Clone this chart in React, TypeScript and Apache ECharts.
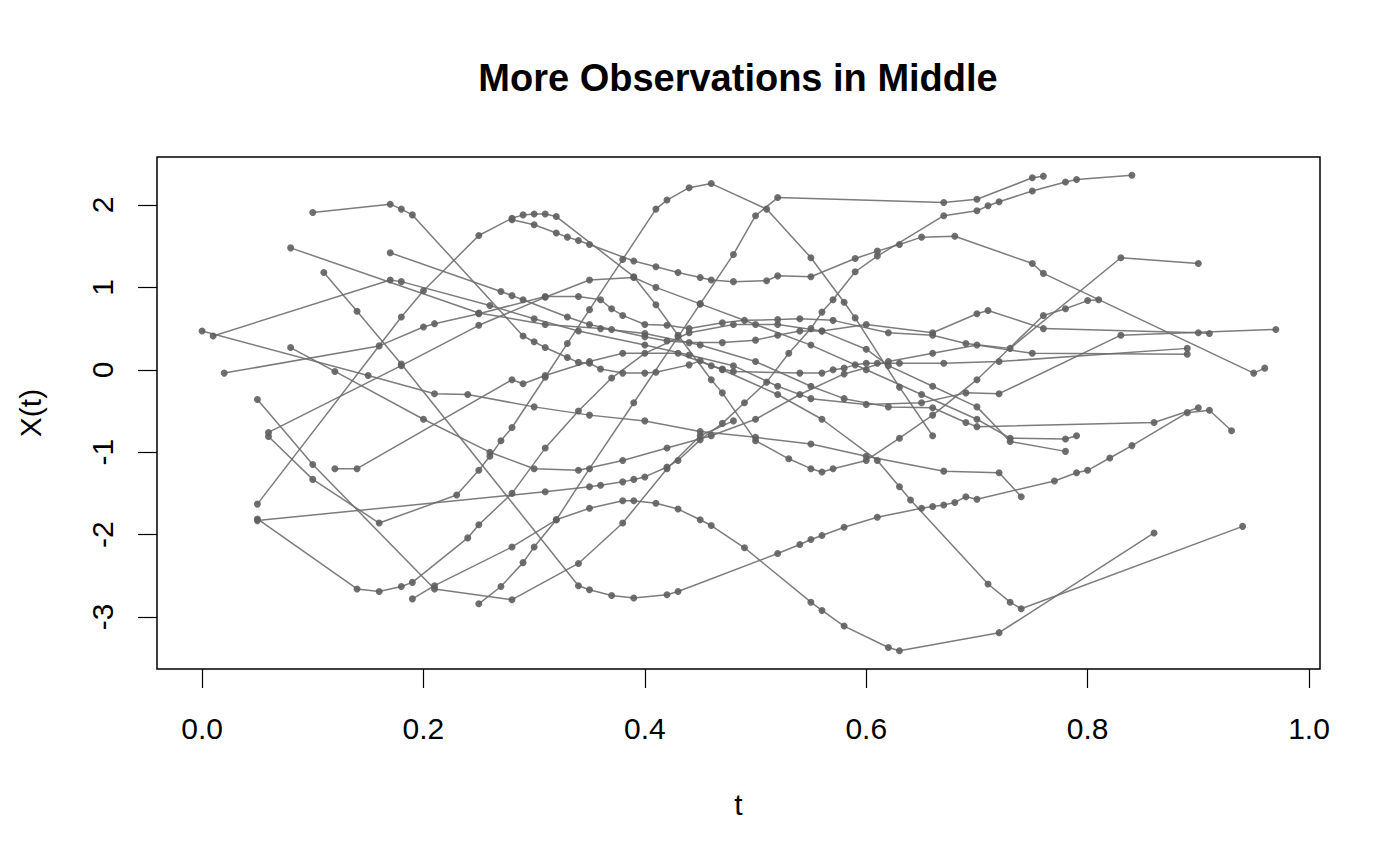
import React, { useEffect, useRef } from "react";
import * as echarts from "echarts";

// Each curve: [t, X(t)] observations
const curveA = [[0.10,1.91],[0.17,2.01],[0.18,1.95],[0.19,1.88],[0.29,0.41],[0.30,0.34],[0.31,0.27],[0.33,0.15],[0.34,0.09],[0.35,0.08],[0.36,0.01],[0.38,-0.04],[0.40,-0.04],[0.41,-0.03],[0.44,0.06],[0.45,0.11],[0.46,0.05],[0.47,0.01],[0.48,-0.02],[0.54,-0.04],[0.56,-0.04],[0.57,0.0],[0.58,0.02],[0.59,0.06],[0.60,0.08],[0.61,0.08],[0.63,0.08],[0.67,0.08],[0.72,0.10],[0.89,0.26]];
const curveB = [[0.05,-1.63],[0.18,0.64],[0.20,0.96],[0.25,1.63],[0.28,1.84],[0.29,1.88],[0.30,1.89],[0.31,1.89],[0.32,1.86],[0.39,1.13],[0.41,0.79],[0.43,0.42],[0.46,-0.12],[0.47,-0.28],[0.50,-0.86],[0.53,-1.08],[0.55,-1.20],[0.56,-1.24],[0.57,-1.20],[0.60,-1.10],[0.63,-0.83],[0.66,-0.55],[0.70,-0.12],[0.76,0.66],[0.78,0.74],[0.80,0.84],[0.81,0.85]];
const curveC = [[0.28,1.82],[0.30,1.76],[0.32,1.66],[0.33,1.61],[0.34,1.57],[0.35,1.52],[0.39,1.32],[0.41,1.25],[0.43,1.18],[0.45,1.12],[0.46,1.09],[0.48,1.07],[0.51,1.08],[0.52,1.14],[0.55,1.13],[0.59,1.35],[0.61,1.44],[0.63,1.52],[0.65,1.61],[0.68,1.62],[0.75,1.29],[0.76,1.17],[0.95,-0.04],[0.96,0.02]];
const curveD = [[0.11,1.18],[0.14,0.71],[0.18,0.07],[0.34,-2.62],[0.35,-2.67],[0.37,-2.74],[0.39,-2.77],[0.42,-2.73],[0.43,-2.69],[0.52,-2.23],[0.54,-2.12],[0.55,-2.06],[0.56,-2.01],[0.58,-1.91],[0.61,-1.79],[0.65,-1.68],[0.66,-1.66],[0.67,-1.64],[0.68,-1.61],[0.69,-1.54],[0.70,-1.57],[0.77,-1.35],[0.79,-1.25],[0.80,-1.22],[0.82,-1.07],[0.84,-0.92],[0.89,-0.52],[0.91,-0.49],[0.93,-0.74]];
const curveH = [[0.06,-0.81],[0.10,-1.33],[0.16,-1.86],[0.23,-1.52],[0.25,-1.22],[0.26,-1.05],[0.27,-0.86],[0.28,-0.70],[0.31,-0.09],[0.33,0.32],[0.35,0.73],[0.38,1.34],[0.41,1.95],[0.42,2.06],[0.44,2.21],[0.46,2.26],[0.51,1.95],[0.55,1.36],[0.58,0.82],[0.59,0.63],[0.63,-0.21],[0.66,-0.80]];
const curveR1 = [[0.05,-1.83],[0.31,-1.48],[0.35,-1.42],[0.36,-1.40],[0.38,-1.36],[0.39,-1.33],[0.40,-1.30],[0.42,-1.18],[0.43,-1.10],[0.45,-0.85],[0.47,-0.65],[0.49,-0.40],[0.51,-0.15],[0.53,0.20],[0.55,0.50],[0.56,0.70],[0.57,0.85],[0.59,1.19],[0.61,1.38],[0.67,1.87],[0.70,1.93],[0.71,1.99],[0.72,2.04],[0.75,2.17],[0.78,2.28],[0.79,2.31],[0.84,2.36]];
const curveRF = [[0.25,-2.84],[0.27,-2.63],[0.29,-2.34],[0.30,-2.15],[0.32,-1.82],[0.35,-1.20],[0.39,-0.40],[0.43,0.40],[0.45,0.80],[0.48,1.40],[0.50,1.87],[0.52,2.09],[0.67,2.03],[0.70,2.07],[0.75,2.33],[0.76,2.35]];
const curveBot = [[0.19,-2.78],[0.21,-2.62],[0.28,-2.15],[0.32,-1.82],[0.35,-1.68],[0.38,-1.59],[0.39,-1.59],[0.41,-1.62],[0.43,-1.69],[0.45,-1.82],[0.46,-1.89],[0.49,-2.16],[0.55,-2.82],[0.56,-2.92],[0.58,-3.11],[0.62,-3.37],[0.63,-3.41],[0.72,-3.19],[0.86,-1.98]];
const curveU = [[0.05,-1.81],[0.14,-2.66],[0.16,-2.69],[0.18,-2.63],[0.19,-2.58],[0.24,-2.04],[0.25,-1.88],[0.28,-1.50],[0.31,-0.95],[0.34,-0.50],[0.37,-0.10],[0.40,0.20],[0.44,0.45],[0.48,0.55],[0.52,0.55],[0.56,0.47],[0.60,0.55],[0.66,0.45],[0.70,0.68],[0.71,0.72],[0.76,0.50],[0.90,0.45],[0.91,0.44]];
const curveS = [[0.00,0.47],[0.15,-0.07],[0.21,-0.29],[0.24,-0.30],[0.30,-0.45],[0.35,-0.55],[0.40,-0.62],[0.45,-0.75],[0.50,-0.82],[0.55,-0.90],[0.60,-1.05],[0.67,-1.23],[0.72,-1.25],[0.74,-1.54]];
const curveK = [[0.17,1.42],[0.27,0.95],[0.28,0.90],[0.29,0.85],[0.33,0.64],[0.35,0.55],[0.37,0.49],[0.40,0.40],[0.42,0.35],[0.44,0.33],[0.47,0.33],[0.50,0.36],[0.52,0.42],[0.54,0.47],[0.56,0.47],[0.60,0.25],[0.62,0.05],[0.66,-0.20],[0.70,-0.45],[0.73,-0.87],[0.78,-0.99]];
const curveL = [[0.01,0.41],[0.17,1.09],[0.18,1.07],[0.26,0.78],[0.30,0.62],[0.34,0.47],[0.40,0.30],[0.44,0.18],[0.48,0.05],[0.52,-0.20],[0.55,-0.35],[0.60,-0.42],[0.65,-0.40],[0.69,-0.28],[0.72,-0.29],[0.83,0.42],[0.97,0.49]];
const curveM = [[0.02,-0.04],[0.16,0.29],[0.20,0.52],[0.21,0.56],[0.25,0.68],[0.31,0.89],[0.34,0.89],[0.36,0.85],[0.37,0.74],[0.38,0.66],[0.40,0.55],[0.42,0.54],[0.44,0.50],[0.47,0.57],[0.49,0.60],[0.52,0.61],[0.54,0.62],[0.57,0.60],[0.62,0.45],[0.66,0.42],[0.69,0.32],[0.73,0.26],[0.83,1.36],[0.90,1.29]];
const curveN = [[0.08,1.48],[0.25,0.69],[0.31,0.55],[0.36,0.50],[0.40,0.44],[0.45,0.30],[0.50,0.10],[0.55,-0.20],[0.58,-0.35],[0.62,-0.45],[0.66,-0.46],[0.69,-0.64],[0.70,-0.69],[0.86,-0.64],[0.90,-0.46]];
const curveP = [[0.05,-0.36],[0.10,-1.15],[0.21,-2.66],[0.28,-2.79],[0.34,-2.35],[0.38,-1.86],[0.42,-1.20],[0.45,-0.80],[0.48,-0.62]];
const curveQ = [[0.12,-1.20],[0.14,-1.20],[0.28,-0.12],[0.29,-0.17],[0.31,-0.07],[0.35,0.10],[0.38,0.20],[0.43,0.20],[0.47,0.00],[0.52,-0.30],[0.56,-0.60],[0.61,-1.10],[0.63,-1.42],[0.64,-1.58],[0.71,-2.60],[0.73,-2.82],[0.74,-2.90],[0.94,-1.90]];
const curveG = [[0.06,-0.76],[0.18,0.05],[0.25,0.54],[0.31,0.88],[0.35,1.09],[0.39,1.12],[0.41,1.00],[0.45,0.80],[0.50,0.55],[0.55,0.30],[0.60,0.00],[0.65,-0.30],[0.70,-0.60],[0.73,-0.83],[0.78,-0.84],[0.79,-0.80]];
const curveF = [[0.08,0.27],[0.12,-0.02],[0.20,-0.60],[0.26,-1.00],[0.30,-1.20],[0.34,-1.22],[0.38,-1.10],[0.42,-0.95],[0.46,-0.80],[0.50,-0.60],[0.54,-0.30],[0.58,-0.05],[0.62,0.10],[0.66,0.20],[0.70,0.30],[0.75,0.20],[0.89,0.19]];

const curves = [curveA, curveB, curveC, curveD, curveH, curveR1, curveRF, curveBot, curveU, curveS, curveK, curveL, curveM, curveN, curveP, curveQ, curveG, curveF];

const xTicks = [0, 0.2, 0.4, 0.6, 0.8, 1.0];
const yTicks = [-3, -2, -1, 0, 1, 2];
const titleText = "More Observations in Middle";
const xName = "t";
const yName = "X(t)";

const FONT = "'Liberation Sans', Arial, Helvetica, sans-serif";

export default function App() {
  const ref = useRef<HTMLDivElement>(null);
  useEffect(() => {
    if (!ref.current) return;
    const chart = echarts.init(ref.current, null, { renderer: "svg" });
    const series = curves.map((c, i) => ({
      type: "line",
      name: "curve" + i,
      data: c,
      showSymbol: true,
      symbol: "circle",
      symbolSize: 7,
      lineStyle: { color: "rgba(110,110,110,0.9)", width: 1.5 },
      itemStyle: { color: "rgba(95,95,95,0.9)", borderWidth: 0 },
      emphasis: { disabled: true },
      silent: true,
      z: 2,
    }));
    chart.setOption({
      animation: false,
      backgroundColor: "#ffffff",
      textStyle: { fontFamily: FONT },
      graphic: [
        {
          type: "text",
          x: 738,
          y: 78,
          style: {
            text: titleText,
            font: `bold 38px ${FONT}`,
            fill: "#000",
            textAlign: "center",
            textVerticalAlign: "middle",
          },
        },
      ],
      grid: {
        left: 157,
        top: 157,
        width: 1163,
        height: 512,
        show: true,
        borderColor: "#000",
        borderWidth: 1.5,
        backgroundColor: "transparent",
      },
      xAxis: {
        type: "value",
        min: -0.0407,
        max: 1.0099,
        name: xName,
        nameLocation: "middle",
        nameGap: 120,
        nameTextStyle: { fontSize: 30, color: "#000", fontFamily: FONT },
        axisLine: { show: false, onZero: false },
        splitLine: { show: false },
        axisTick: {
          show: true,
          inside: false,
          length: 19,
          lineStyle: { color: "#000", width: 1.2 },
          customValues: xTicks,
        },
        axisLabel: {
          show: true,
          margin: 44,
          fontSize: 30,
          color: "#000",
          fontFamily: FONT,
          customValues: xTicks,
          formatter: (v: number) => v.toFixed(1),
        },
      },
      yAxis: {
        type: "value",
        min: -3.631,
        max: 2.5825,
        name: yName,
        nameLocation: "middle",
        nameGap: 112,
        nameTextStyle: { fontSize: 30, color: "#000", fontFamily: FONT },
        axisLine: { show: false, onZero: false },
        splitLine: { show: false },
        axisTick: {
          show: true,
          inside: false,
          length: 19,
          lineStyle: { color: "#000", width: 1.2 },
          customValues: yTicks,
        },
        axisLabel: {
          show: true,
          rotate: 90,
          margin: 40,
          fontSize: 30,
          color: "#000",
          fontFamily: FONT,
          customValues: yTicks,
          formatter: (v: number) => String(v),
        },
      },
      series,
    });
    return () => chart.dispose();
  }, []);
  return <div ref={ref} style={{ width: 1400, height: 866, margin: -8 }} />;
}
